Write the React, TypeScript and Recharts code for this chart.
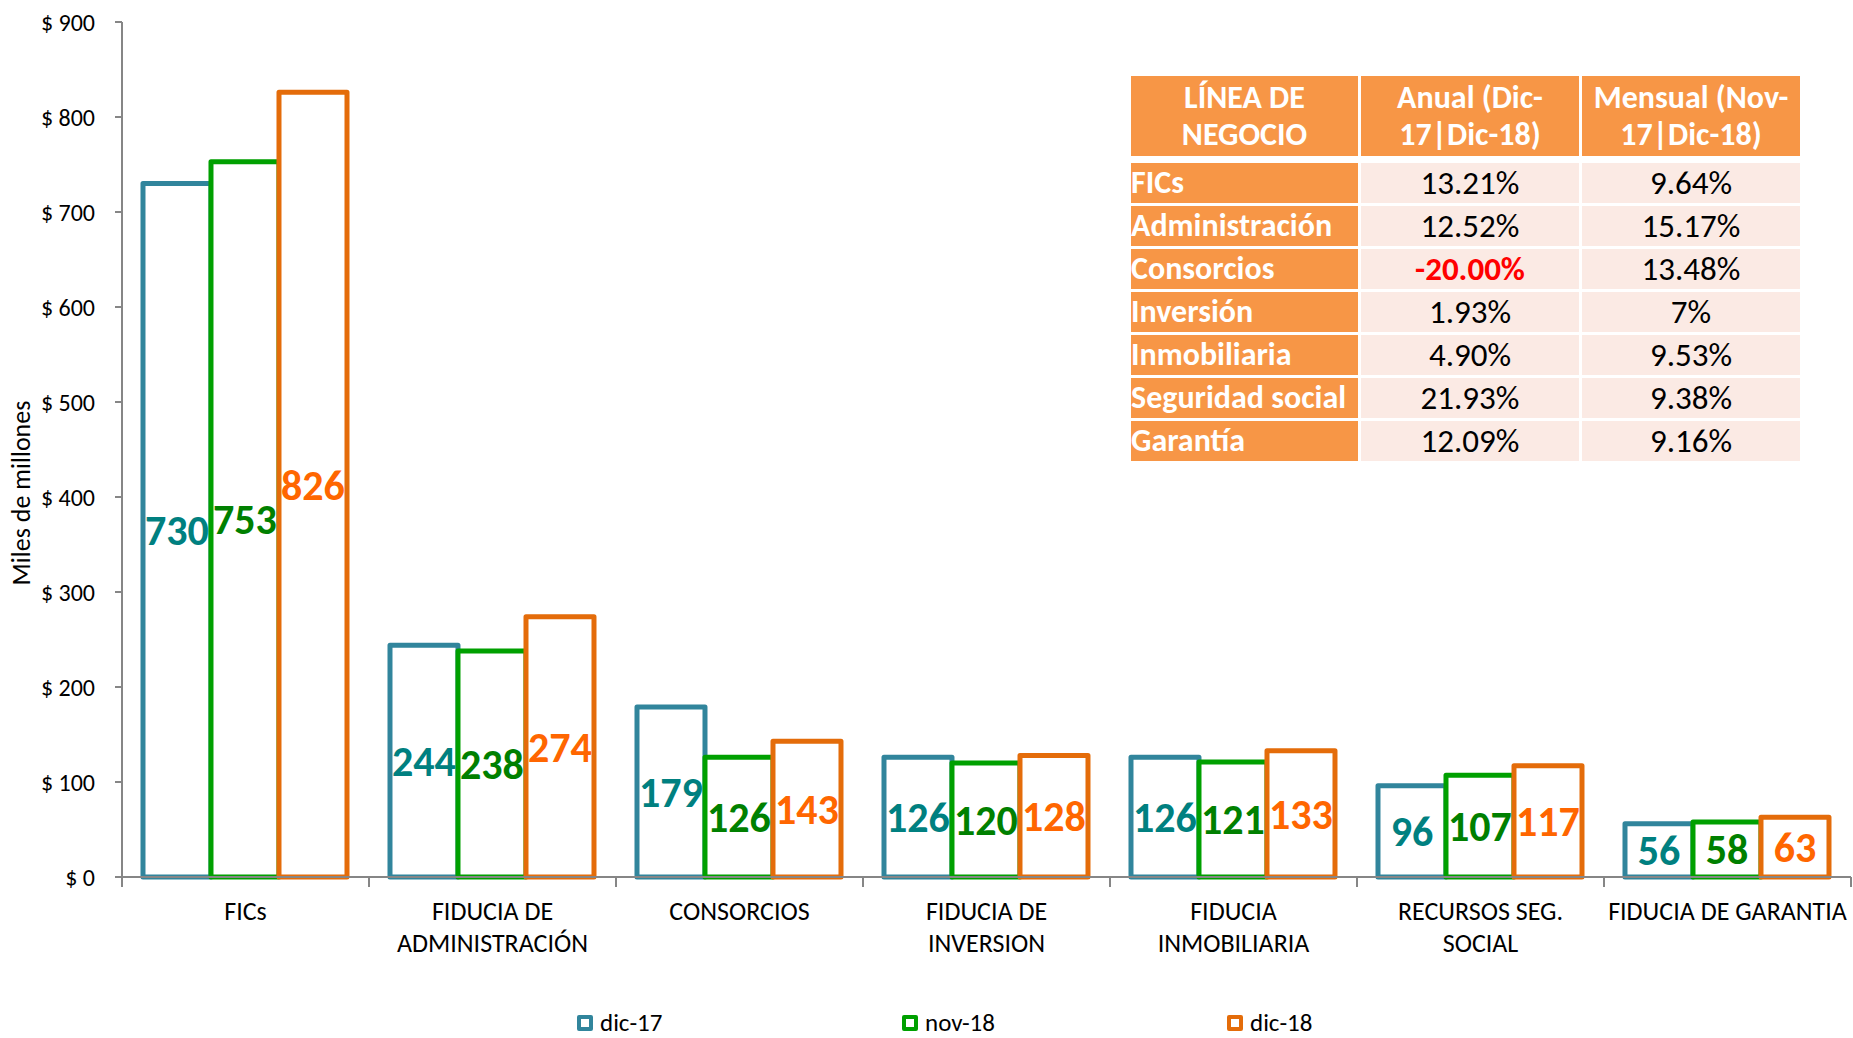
import { BarChart, Bar, XAxis, YAxis, LabelList } from 'recharts';

const FONT = 'Carlito, Lato, sans-serif';

const categories = [
  'FICs',
  'FIDUCIA DE\nADMINISTRACIÓN',
  'CONSORCIOS',
  'FIDUCIA DE\nINVERSION',
  'FIDUCIA\nINMOBILIARIA',
  'RECURSOS SEG.\nSOCIAL',
  'FIDUCIA DE GARANTIA',
];
const dic17 = [730, 244, 179, 126, 126, 96, 56];
const nov18 = [753, 238, 126, 120, 121, 107, 58];
const dic18 = [826, 274, 143, 128, 133, 117, 63];
const yTicks = [0, 100, 200, 300, 400, 500, 600, 700, 800, 900];

const series = [
  { key: 'dic17', name: 'dic-17', stroke: '#31859C', label: '#008080' },
  { key: 'nov18', name: 'nov-18', stroke: '#00A000', label: '#008000' },
  { key: 'dic18', name: 'dic-18', stroke: '#E46C0A', label: '#FF6600' },
];

// table next to the bars
const headers = ['LÍNEA DE\nNEGOCIO', 'Anual (Dic-\n17|Dic-18)', 'Mensual (Nov-\n17|Dic-18)'];
const lineas = ['FICs', 'Administración', 'Consorcios', 'Inversión', 'Inmobiliaria', 'Seguridad social', 'Garantía'];
const anual = ['13.21%', '12.52%', '-20.00%', '1.93%', '4.90%', '21.93%', '12.09%'];
const mensual = ['9.64%', '15.17%', '13.48%', '7%', '9.53%', '9.38%', '9.16%'];

const data = categories.map((name, i) => ({
  name,
  dic17: dic17[i],
  nov18: nov18[i],
  dic18: dic18[i],
}));

function CategoryTick(props: any) {
  const { x, y, payload, index } = props;
  const half = payload?.offset || 1729 / 14;
  const lines = String(payload.value).split('\n');
  return (
    <g>
      <line x1={x - half} x2={x - half} y1={y} y2={y + 10} stroke="#868686" strokeWidth={2} />
      {index === categories.length - 1 && (
        <line x1={x + half} x2={x + half} y1={y} y2={y + 10} stroke="#868686" strokeWidth={2} />
      )}
      <text x={x} y={y + 43} textAnchor="middle" fontSize={26} fontFamily={FONT} fill="#000">
        {lines.map((l, i) => (
          <tspan key={i} x={x} dy={i === 0 ? 0 : 32}>
            {l}
          </tspan>
        ))}
      </text>
    </g>
  );
}

const orange = '#F79646';
const pink = '#FBEAE4';

function GrowthTable() {
  return (
    <div
      style={{
        position: 'absolute',
        left: 1131,
        top: 76,
        width: 669,
        display: 'grid',
        gridTemplateColumns: '227px 218px 218px',
        columnGap: 3,
        rowGap: 3,
        fontFamily: FONT,
      }}
    >
      {headers.map(h => (
        <div
          key={h}
          style={{
            background: orange,
            color: '#fff',
            fontWeight: 'bold',
            fontSize: 32,
            lineHeight: '37px',
            height: 80,
            marginBottom: 4,
            whiteSpace: 'pre-line',
            textAlign: 'center',
            display: 'flex',
            alignItems: 'center',
            justifyContent: 'center',
          }}
        >
          {h}
        </div>
      ))}
      {lineas.map((l, i) => [
        <div
          key={l + 'a'}
          style={{ background: orange, color: '#fff', fontWeight: 'bold', fontSize: 32, height: 40, lineHeight: '40px', whiteSpace: 'nowrap' }}
        >
          {l}
        </div>,
        <div
          key={l + 'b'}
          style={{
            background: pink,
            color: anual[i].startsWith('-') ? '#FF0000' : '#000',
            fontWeight: anual[i].startsWith('-') ? 'bold' : 'normal',
            fontSize: 33,
            height: 40,
            lineHeight: '40px',
            textAlign: 'center',
          }}
        >
          {anual[i]}
        </div>,
        <div key={l + 'c'} style={{ background: pink, color: '#000', fontSize: 33, height: 40, lineHeight: '40px', textAlign: 'center' }}>
          {mensual[i]}
        </div>,
      ])}
    </div>
  );
}

function LegendRow() {
  return (
    <div style={{ position: 'absolute', left: 577, top: 1009, height: 28, display: 'flex', fontFamily: FONT, fontSize: 25, lineHeight: '28px' }}>
      {series.map(s => (
        <div key={s.key} style={{ width: 325, height: 28, display: 'flex', alignItems: 'center' }}>
          <span
            style={{
              width: 16,
              height: 16,
              boxSizing: 'border-box',
              border: `4px solid ${s.stroke}`,
              borderRadius: 2,
              background: '#fff',
              marginRight: 7,
            }}
          />
          <span>{s.name}</span>
        </div>
      ))}
    </div>
  );
}

export default function App() {
  return (
    <div style={{ position: 'absolute', left: 0, top: 0, width: 1853, height: 1038, background: '#fff', overflow: 'hidden' }}>
      <BarChart
        width={1853}
        height={1038}
        data={data}
        margin={{ top: 22, right: 2, bottom: 0, left: 0 }}
        barCategoryGap="8.5%"
        barGap={0}
      >
        <XAxis
          dataKey="name"
          interval={0}
          height={161}
          tickLine={false}
          tickSize={0}
          tickMargin={0}
          axisLine={{ stroke: '#868686', strokeWidth: 2 }}
          tick={<CategoryTick />}
        />
        <YAxis
          width={122}
          domain={[0, 900]}
          ticks={yTicks}
          interval={0}
          tickFormatter={v => `$ ${v}`}
          tickSize={7}
          tickMargin={20}
          tick={{ fill: '#000', fontSize: 24, fontFamily: FONT }}
          tickLine={{ stroke: '#868686', strokeWidth: 2 }}
          axisLine={{ stroke: '#868686', strokeWidth: 2 }}
          label={{
            content: () => (
              <text
                x={21}
                y={493}
                transform="rotate(-90 21 493)"
                textAnchor="middle"
                dominantBaseline="central"
                fontSize={26}
                fontFamily={FONT}
                fill="#000"
              >
                Miles de millones
              </text>
            ),
          }}
        />
        {series.map(s => (
          <Bar
            key={s.key}
            dataKey={s.key}
            name={s.name}
            fill="#fff"
            stroke={s.stroke}
            strokeWidth={5}
            strokeLinejoin="round"
            isAnimationActive={false}
          >
            <LabelList
              dataKey={s.key}
              position="center"
              fill={s.label}
              fontSize={42}
              fontWeight="bold"
              fontFamily={FONT}
            />
          </Bar>
        ))}
      </BarChart>
      <GrowthTable />
      <LegendRow />
    </div>
  );
}
